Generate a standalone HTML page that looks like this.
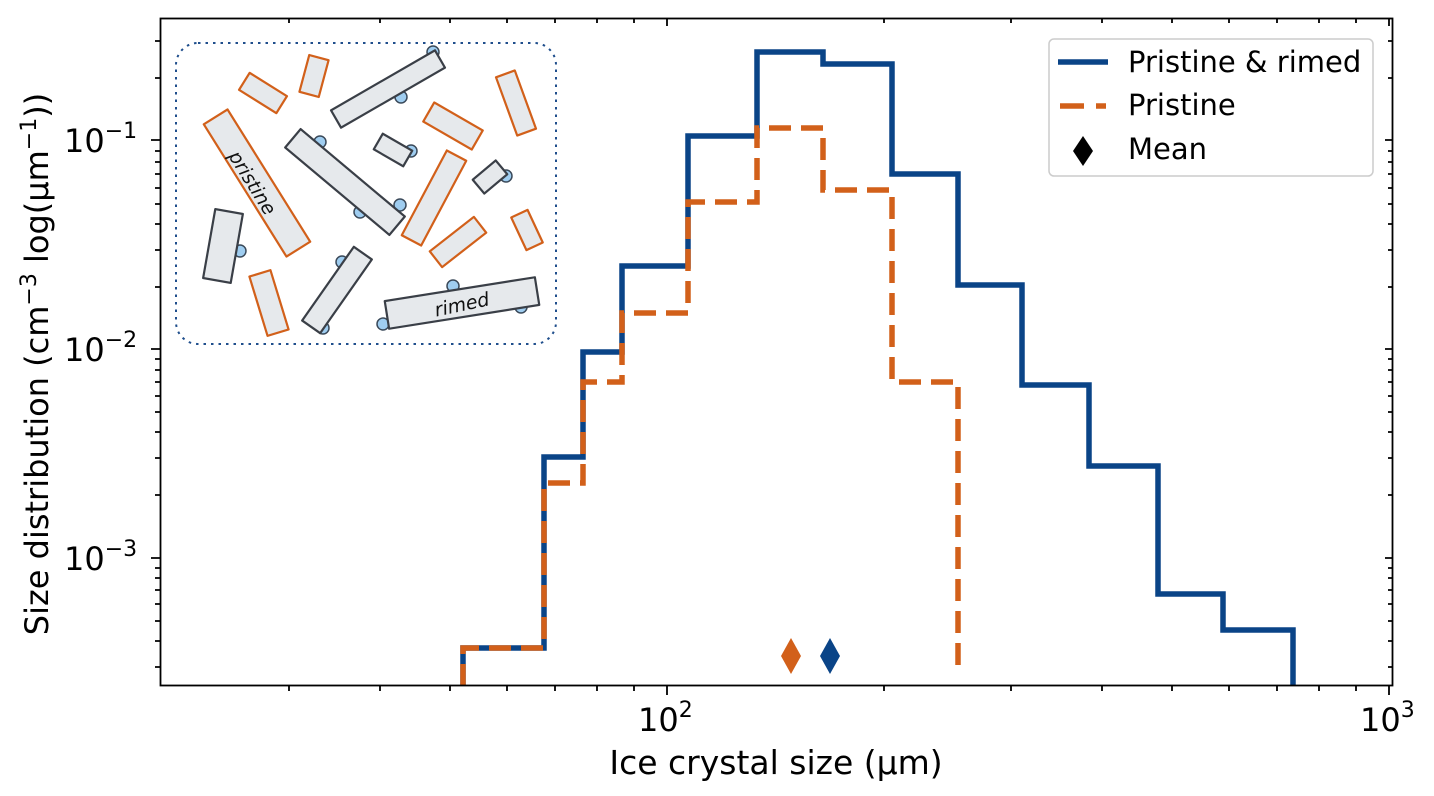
<!DOCTYPE html>
<html><head><meta charset="utf-8"><style>
html,body{margin:0;padding:0;background:#fff;}
svg{display:block;font-family:"DejaVu Sans","Liberation Sans",sans-serif;}
</style></head><body>
<svg width="1434" height="796" viewBox="0 0 1434 796" xmlns="http://www.w3.org/2000/svg">
<rect width="1434" height="796" fill="#fff"/>

<!-- inset -->
<rect x="176" y="43" width="380" height="301" rx="22" fill="none" stroke="#1f4e8c" stroke-width="2" stroke-dasharray="2.5,5"/>
<g stroke-width="2.2" fill="#e6e9ec" stroke-linejoin="round">
 <g fill="#9fcdf0" stroke="#3b4a5a" stroke-width="1.5">
  <circle cx="433" cy="52" r="6"/><circle cx="401" cy="97" r="6"/><circle cx="320" cy="142" r="6"/>
  <circle cx="411" cy="151" r="6"/><circle cx="360" cy="212" r="6"/><circle cx="400" cy="205" r="6"/>
  <circle cx="506" cy="176" r="6"/><circle cx="240" cy="251" r="6"/><circle cx="342" cy="262" r="6"/>
  <circle cx="323" cy="328" r="6"/><circle cx="453" cy="286" r="6"/><circle cx="521" cy="307" r="6"/>
  <circle cx="383" cy="324" r="6"/>
 </g>
 <g stroke="#d2601a">
  <rect x="-22" y="-10" width="44" height="20" transform="translate(263,93) rotate(32)"/>
  <rect x="-19" y="-10" width="38" height="20" transform="translate(314,76) rotate(-75)"/>
  <rect x="-31" y="-10" width="62" height="20" transform="translate(516,103) rotate(70)"/>
  <rect x="-28" y="-11" width="56" height="22" transform="translate(453,126) rotate(30)"/>
  <rect x="-78" y="-14" width="156" height="28" transform="translate(257,183) rotate(58)"/>
  <rect x="-48" y="-11" width="96" height="22" transform="translate(434,198) rotate(-62)"/>
  <rect x="-28" y="-10" width="56" height="20" transform="translate(458,242) rotate(-38)"/>
  <rect x="-18" y="-9" width="36" height="18" transform="translate(527,230) rotate(65)"/>
  <rect x="-31" y="-11" width="62" height="22" transform="translate(269,303) rotate(73)"/>
 </g>
 <g stroke="#3a3f47">
  <rect x="-60" y="-10" width="120" height="20" transform="translate(388,89) rotate(-30)"/>
  <rect x="-68" y="-12" width="136" height="24" transform="translate(345,182) rotate(40)"/>
  <rect x="-17" y="-9" width="34" height="18" transform="translate(393,150) rotate(30)"/>
  <rect x="-15" y="-9" width="30" height="18" transform="translate(490,177) rotate(-40)"/>
  <rect x="-35" y="-14" width="70" height="28" transform="translate(223,246) rotate(-80)"/>
  <rect x="-45" y="-11" width="90" height="22" transform="translate(337,290) rotate(-55)"/>
  <rect x="-76" y="-14" width="152" height="28" transform="translate(462,303) rotate(-9)"/>
 </g>
</g>
<text x="0" y="6" font-size="19" font-style="italic" fill="#111" transform="translate(252,183) rotate(58)" text-anchor="middle">pristine</text>
<text x="0" y="6" font-size="19" font-style="italic" fill="#111" transform="translate(462,305) rotate(-12)" text-anchor="middle">rimed</text>

<!-- data -->
<polyline fill="none" stroke="#0a4487" stroke-width="5.5" points="463,686 463,648 544,648 544,457 583,457 583,352 622,352 622,266 688,266 688,136 757,136 757,52 823,52 823,64 892,64 892,174 958,174 958,285 1022,285 1022,385 1089,385 1089,466 1158,466 1158,594 1223,594 1223,630 1293,630 1293,686"/>
<polyline fill="none" stroke="#d2601a" stroke-width="5.5" stroke-dasharray="22,10" points="463,686 463,648 544,648 544,483 583,483 583,382 622,382 622,313 688,313 688,202 757,202 757,128 823,128 823,190 892,190 892,382 958,382 958,674"/>
<polygon points="791,638 801,656 791,674 781,656" fill="#d2601a"/>
<polygon points="830,638 840,656 830,674 820,656" fill="#0a4487"/>

<!-- axes frame -->
<rect x="160.5" y="18.5" width="1232" height="667" fill="none" stroke="#000" stroke-width="1.8"/>
<g stroke="#000" stroke-width="1.8">
 <path d="M667 686v9M1389 686v9M667 18v8M1389 18v8"/>
 <path d="M289 686v5M380 686v5M450 686v5M507 686v5M555 686v5M597 686v5M634 686v5M884 686v5M1011 686v5M1102 686v5M1172 686v5M1229 686v5M1277 686v5M1319 686v5M1356 686v5"/>
 <path d="M289 18v5M380 18v5M450 18v5M507 18v5M555 18v5M597 18v5M634 18v5M884 18v5M1011 18v5M1102 18v5M1172 18v5M1229 18v5M1277 18v5M1319 18v5M1356 18v5"/>
 <path d="M151 140h9M151 349h9M151 558h9M1393 140h-8M1393 349h-8M1393 558h-8"/>
 <path d="M155 78h5M155 41h5M155 287h5M155 250h5M155 224h5M155 204h5M155 188h5M155 174h5M155 162h5M155 151h5M155 495h5M155 458h5M155 432h5M155 412h5M155 396h5M155 382h5M155 370h5M155 359h5M155 667h5M155 641h5M155 621h5M155 604h5M155 590h5M155 578h5M155 568h5"/>
 <path d="M1393 78h-5M1393 41h-5M1393 287h-5M1393 250h-5M1393 224h-5M1393 204h-5M1393 188h-5M1393 174h-5M1393 162h-5M1393 151h-5M1393 495h-5M1393 458h-5M1393 432h-5M1393 412h-5M1393 396h-5M1393 382h-5M1393 370h-5M1393 359h-5M1393 667h-5M1393 641h-5M1393 621h-5M1393 604h-5M1393 590h-5M1393 578h-5M1393 568h-5"/>
</g>

<!-- tick labels -->
<g font-size="32" fill="#000">
 <text x="638" y="731">10<tspan dy="-14" font-size="22">2</tspan></text>
 <text x="1360" y="731">10<tspan dy="-14" font-size="22">3</tspan></text>
 <text x="64" y="152">10<tspan dy="-14" font-size="22">−1</tspan></text>
 <text x="64" y="361">10<tspan dy="-14" font-size="22">−2</tspan></text>
 <text x="64" y="570">10<tspan dy="-14" font-size="22">−3</tspan></text>
</g>
<text x="776" y="774" font-size="33" text-anchor="middle">Ice crystal size (µm)</text>
<text transform="translate(48,364) rotate(-90)" font-size="32" text-anchor="middle">Size distribution (cm<tspan dy="-12" font-size="22">−3</tspan><tspan dy="12"> log(µm</tspan><tspan dy="-12" font-size="22">−1</tspan><tspan dy="12">))</tspan></text>

<!-- legend -->
<rect x="1049" y="39" width="324" height="137" rx="5" fill="#fff" fill-opacity="0.85" stroke="#cccccc" stroke-width="1.5"/>
<line x1="1058" y1="62" x2="1108" y2="62" stroke="#0a4487" stroke-width="5.5"/>
<path d="M1060 106h24M1096 106h10" stroke="#d2601a" stroke-width="5.5"/>
<polygon points="1083,136 1093,151 1083,166 1073,151" fill="#000"/>
<g font-size="29" fill="#000">
 <text x="1128" y="72">Pristine &amp; rimed</text>
 <text x="1128" y="115">Pristine</text>
 <text x="1128" y="159">Mean</text>
</g>
</svg>
</body></html>
